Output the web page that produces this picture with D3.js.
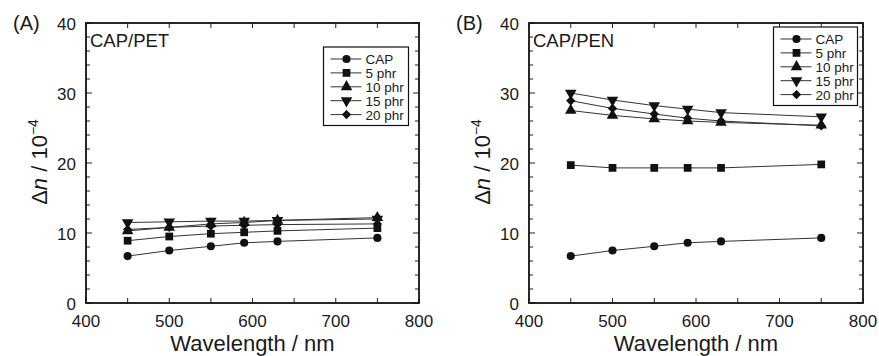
<!DOCTYPE html>
<html><head><meta charset="utf-8">
<script src="https://cdn.jsdelivr.net/npm/d3@7"></script>
<style>body{margin:0;background:#fff}svg text{font-family:"Liberation Sans",Arial,sans-serif;fill:#1a1a1a}</style>
</head><body><svg id="c" width="879" height="356"></svg>
<script>
const wavelengths = [450, 500, 550, 590, 630, 750];
const seriesNames = ["CAP", "5 phr", "10 phr", "15 phr", "20 phr"];
const markerShapes = ["circle", "square", "triangle", "triangleDown", "diamond"];
// Panel A: CAP/PET
const petCAP   = [6.7, 7.5, 8.1, 8.6, 8.8, 9.3];
const pet5     = [8.9, 9.5, 9.9, 10.1, 10.3, 10.7];
const pet10    = [10.3, 10.8, 11.3, 11.5, 11.8, 12.2];
const pet15    = [11.5, 11.6, 11.7, 11.7, 11.8, 12.0];
const pet20    = [10.5, 10.8, 11.0, 11.1, 11.2, 11.3];
// Panel B: CAP/PEN
const penCAP   = [6.7, 7.5, 8.1, 8.6, 8.8, 9.3];
const pen5     = [19.7, 19.3, 19.3, 19.3, 19.3, 19.8];
const pen10    = [27.5, 26.8, 26.3, 26.0, 25.8, 25.4];
const pen15    = [30.0, 29.0, 28.2, 27.7, 27.2, 26.6];
const pen20    = [28.9, 27.8, 27.0, 26.4, 26.0, 25.3];
const xTicks = [400, 500, 600, 700, 800];
const yTicks = [0, 10, 20, 30, 40];

(function(){
const panels = [
  {tag:"(A)", title:"CAP/PET", series:[petCAP,pet5,pet10,pet15,pet20], left:86, right:419, legend:{x:323.5,y:47,w:85,h:78.5}},
  {tag:"(B)", title:"CAP/PEN", series:[penCAP,pen5,pen10,pen15,pen20], left:529, right:863, legend:{x:773.5,y:27,w:84,h:78.5}}
];
const pTop=23, pBottom=303;
const svg = d3.select("#c");
const sym = {
  circle: d3.symbol(d3.symbolCircle, 52),
  square: d3.symbol(d3.symbolSquare, 60),
  triangle: d3.symbol(d3.symbolTriangle, 58),
  triangleDown: d3.symbol(d3.symbolTriangle, 58),
  diamond: d3.symbol(d3.symbolSquare, 44)
};
function marker(g, shape, x, y){
  const rot = shape==="triangleDown" ? " rotate(180)" : shape==="diamond" ? " rotate(45)" : "";
  g.append("path").attr("d", sym[shape]()).attr("fill","#111")
   .attr("transform", `translate(${x},${y})` + rot);
}
panels.forEach(p=>{
  const x = d3.scaleLinear().domain([400,800]).range([p.left,p.right]);
  const y = d3.scaleLinear().domain([0,40]).range([pBottom,pTop]);
  const g = svg.append("g");
  const minorX = d3.range(400,801,50), minorY = d3.range(0,41,2);
  const tk = g.append("g").attr("stroke","#222").attr("stroke-width",1);
  minorX.forEach(v=>{
    const L = 5;
    tk.append("line").attr("x1",x(v)).attr("x2",x(v)).attr("y1",pBottom).attr("y2",pBottom-L);
    tk.append("line").attr("x1",x(v)).attr("x2",x(v)).attr("y1",pTop).attr("y2",pTop+L);
  });
  minorY.forEach(v=>{
    const L = v%10===0?6:4;
    tk.append("line").attr("y1",y(v)).attr("y2",y(v)).attr("x1",p.left).attr("x2",p.left+L);
    tk.append("line").attr("y1",y(v)).attr("y2",y(v)).attr("x1",p.right).attr("x2",p.right-L);
  });
  g.append("rect").attr("x",p.left).attr("y",pTop).attr("width",p.right-p.left).attr("height",pBottom-pTop)
   .attr("fill","none").attr("stroke","#111").attr("stroke-width",1.8);
  xTicks.forEach(v=>g.append("text").attr("x",x(v)).attr("y",pBottom+24).attr("text-anchor","middle").attr("font-size",17).text(v));
  yTicks.forEach(v=>g.append("text").attr("x",p.left-10).attr("y",y(v)+6.5).attr("text-anchor","end").attr("font-size",17).text(v));
  g.append("text").attr("x",(p.left+p.right)/2).attr("y",350.5).attr("text-anchor","middle").attr("font-size",22).text("Wavelength / nm");
  const yl = g.append("text").attr("transform",`translate(${p.left-39},${(pTop+pBottom)/2-1}) rotate(-90)`).attr("text-anchor","middle").attr("font-size",22);
  yl.append("tspan").text("Δ");
  yl.append("tspan").attr("font-style","italic").text("n");
  yl.append("tspan").text(" / 10");
  yl.append("tspan").attr("font-size",14).attr("dy",-9).text("−4");
  g.append("text").attr("x",p.left-73).attr("y",30).attr("font-size",20).text(p.tag);
  g.append("text").attr("x",p.left+4).attr("y",46.5).attr("font-size",18.5).text(p.title);
  const line = d3.line().x((d,i)=>x(wavelengths[i])).y(d=>y(d));
  p.series.forEach((s,k)=>{
    g.append("path").attr("d",line(s)).attr("fill","none").attr("stroke","#333").attr("stroke-width",1);
  });
  p.series.forEach((s,k)=>{
    s.forEach((v,i)=>marker(g, markerShapes[k], x(wavelengths[i]), y(v)));
  });
  const lg = p.legend;
  g.append("rect").attr("x",lg.x).attr("y",lg.y).attr("width",lg.w).attr("height",lg.h).attr("fill","#fff").attr("stroke","#111").attr("stroke-width",1.2);
  seriesNames.forEach((n,k)=>{
    const ry = lg.y + 12 + k*13.9;
    g.append("line").attr("x1",lg.x+7).attr("x2",lg.x+38).attr("y1",ry).attr("y2",ry).attr("stroke","#333").attr("stroke-width",1);
    marker(g, markerShapes[k], lg.x+23, ry);
    g.append("text").attr("x",lg.x+42).attr("y",ry+5).attr("font-size",13.5).text(n);
  });
});
})();
</script></body></html>
